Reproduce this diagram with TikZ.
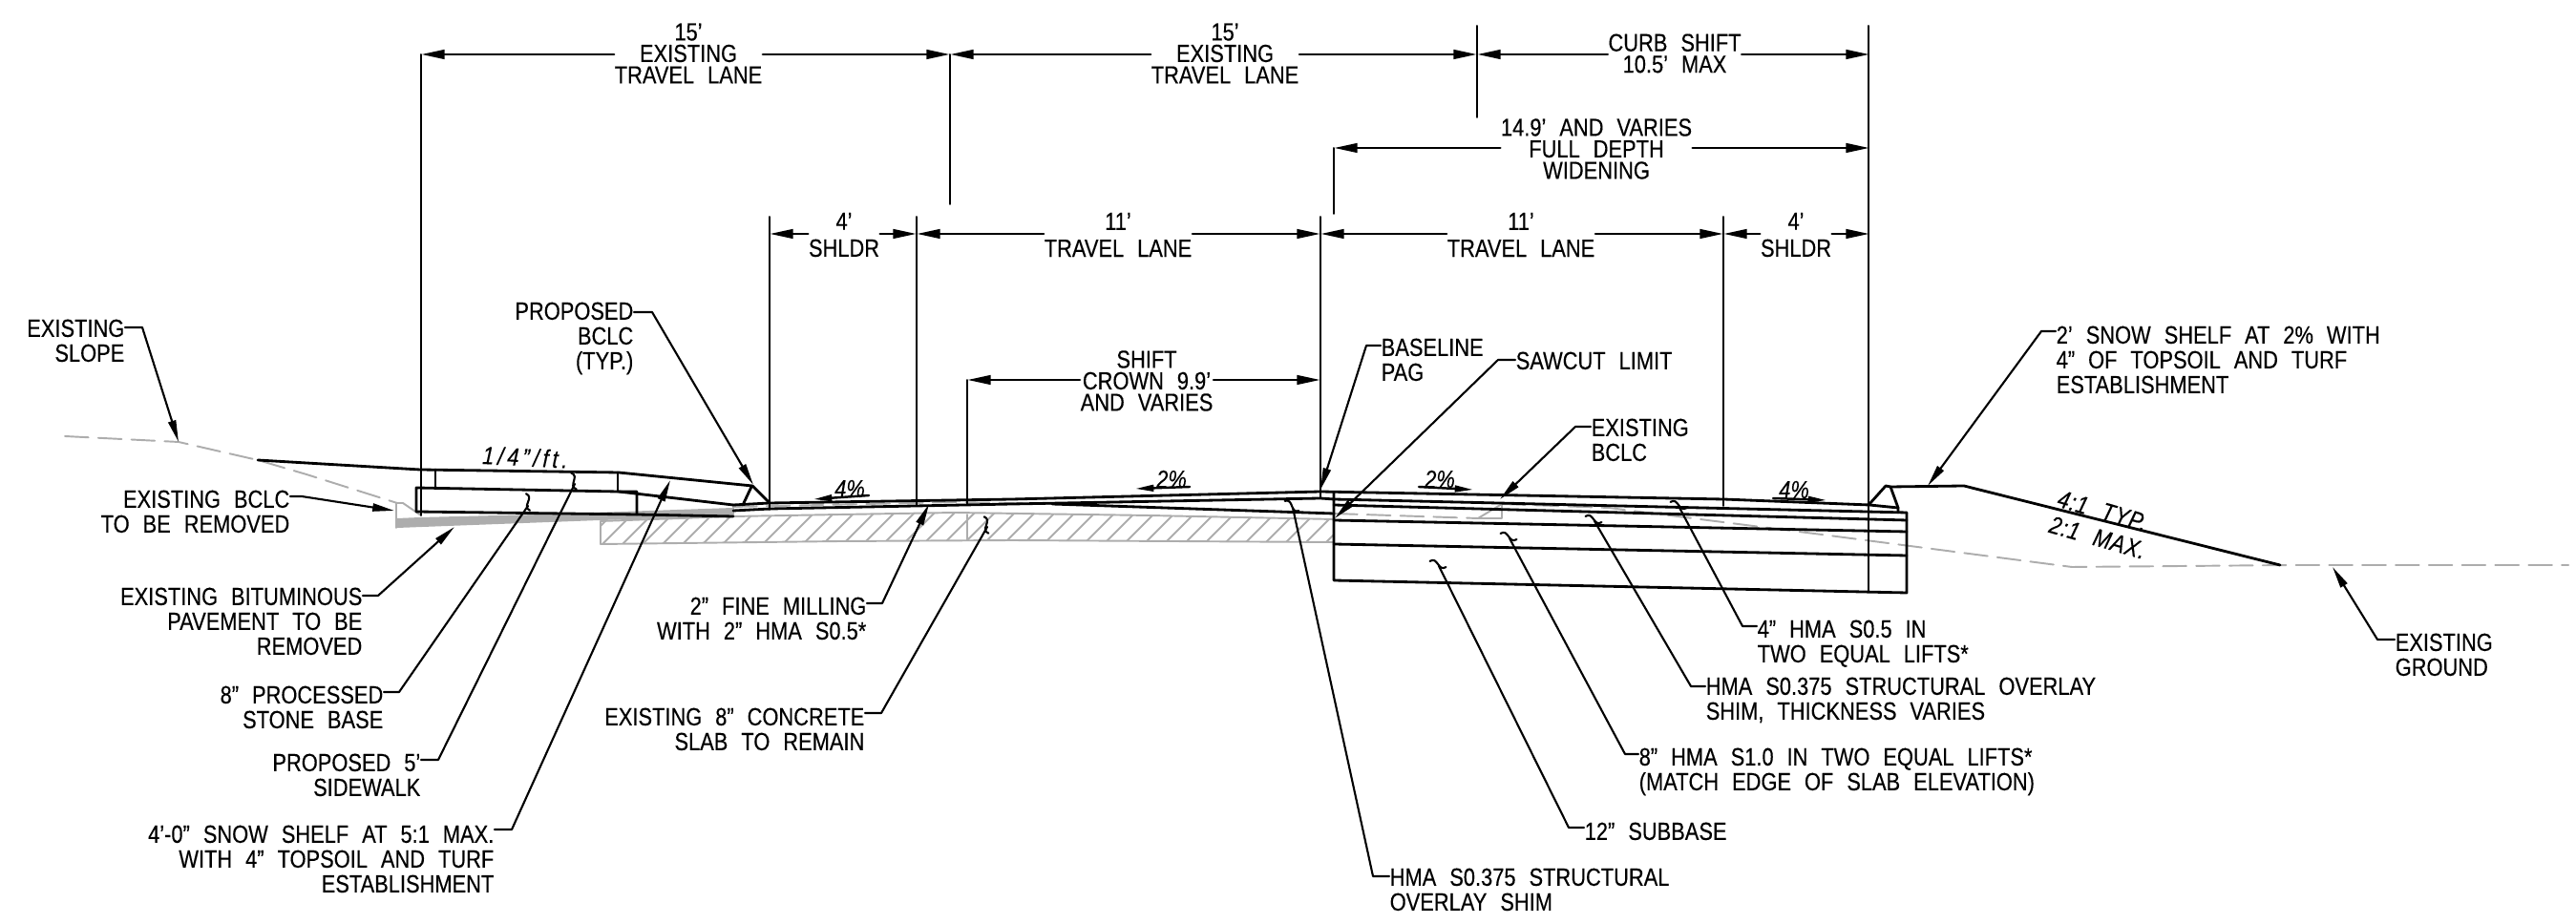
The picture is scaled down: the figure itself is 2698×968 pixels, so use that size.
\documentclass[tikz,border=0pt]{standalone}
\usepackage{fontspec}
\setmainfont[FakeStretch=0.84,WordSpace=2.3,FakeBold=0.25]{Liberation Sans}
\usetikzlibrary{arrows.meta}

\definecolor{exgray}{gray}{0.68}

\tikzset{
  txt/.style={inner sep=0pt, font=\fontsize{7.4pt}{7.4pt}\selectfont},
  dimtxt/.style={inner sep=0pt, align=center, font=\fontsize{7.4pt}{6.4pt}\selectfont},
  slopetxt/.style={inner sep=0pt, font=\fontsize{7.4pt}{7.4pt}\selectfont\itshape},
  lblR/.style={txt, anchor=north east, align=right},
  lblL/.style={txt, anchor=north west, align=left},
  extline/.style={line width=0.55pt},
  dimline/.style={line width=0.8pt, -{Triangle[length=7pt,width=2.7pt]}},
  leaderarrow/.style={line width=0.6pt, -{Triangle[length=6.5pt,width=2.3pt]}},
  leaderline/.style={line width=0.6pt},
  slopearrow/.style={line width=0.7pt, -{Triangle[length=5.5pt,width=1.9pt]}},
  pavement/.style={line width=0.8pt},
  exdash/.style={exgray, line width=0.55pt, dash pattern=on 7pt off 2.9pt},
  exsolid/.style={exgray, line width=0.55pt},
  brk/.pic={\draw[leaderline] (-9,0) .. controls (-3,-8) and (3,8) .. (9,0);}
}

\begin{document}
\begin{tikzpicture}[x=0.01cm, y=-0.01cm, line cap=round, line join=round]

\useasboundingbox (0,0) rectangle (2698,968);

% Existing ground and removed pavement (gray, drawn first)
\fill[exgray] (416,543) -- (440,542) -- (563,539) -- (768,532) -- (768,541) -- (628,545) -- (416,553) -- cycle;
\draw[exsolid] (415,527) -- (422,527) -- (441,540);
\draw[exsolid] (415,527) -- (415,553);
\draw[exsolid] (768,529) -- (768,541);

% Slab hatch
\begin{scope}
  \clip (629,546) -- (768,541) -- (880,539) -- (1000,537) -- (1204,540) -- (1397,544) -- (1397,568) -- (1060,566) -- (880,567) -- (629,570) -- cycle;
  \foreach \hx in {600,621,...,1400}
    \draw[exsolid] (\hx,580) -- (\hx+45,535);
\end{scope}
\draw[exsolid] (629,546) -- (768,541) -- (880,539) -- (1000,537) -- (1204,540) -- (1397,544);
\draw[exsolid] (629,546) -- (629,570) -- (880,567) -- (1060,566) -- (1397,568);
\draw[exsolid] (1013,539) -- (1013,566);

% Existing slope and ground, dashed
\draw[exdash] (68,457) -- (187,463) -- (270,482) -- (321,497) -- (416,527);
\draw[exdash] (768,531) -- (1000,526) -- (1102,528);
\draw[exdash] (1397,538) -- (1548,543);
\draw[exsolid] (1548,543) -- (1573,528) -- (1573,543) -- cycle;
\draw[exdash] (1573,528) -- (1685,532) -- (1908,560) -- (2170,594) -- (2400,592) -- (2690,592);

% Left side: walk, shelf and base
\draw[pavement] (270,482) -- (440,492) -- (648,495) -- (788,509);
\draw[pavement] (788,509) -- (806,527);
\draw[pavement] (787,510) -- (778,529);
\draw[pavement] (456,492) -- (456,512);
\draw[pavement] (647,495) -- (647,515);
\draw[pavement] (436,536) -- (436,511) -- (647,515) -- (667,515) -- (667,539);
\draw[pavement] (648,515) -- (768,529);
\draw[pavement] (436,536) -- (667,539) -- (768,541);

% Surface through the crown
\draw[pavement] (768,529) -- (806,527) -- (1060,523) -- (1383,515) -- (1805,523) -- (1958,529) -- (1988,532);
\draw[pavement] (768,535) -- (807,533) -- (1060,528) -- (1383,522) -- (1397,523) -- (1997,537);
\draw[pavement] (1102,528) -- (1397,538);

% Full depth widening
\draw[pavement] (1397,516) -- (1397,608) -- (1997,621) -- (1997,537);
\draw[pavement] (1397,529) -- (1997,545);
\draw[pavement] (1397,545) -- (1997,557);
\draw[pavement] (1397,570) -- (1997,582);

% Right side: curb and slope
\draw[pavement] (1958,528) -- (1975,509) -- (1980,510) -- (1988,532) -- (1988,537);
\draw[pavement] (1980,510) -- (2057,509) -- (2388,592);

% Extension lines
\draw[extline] (441,57) -- (441,540);
\draw[extline] (995,57) -- (995,214);
\draw[extline] (806,227) -- (806,534);
\draw[extline] (960,227) -- (960,530);
\draw[extline] (1383,227) -- (1383,522);
\draw[extline] (1547,27) -- (1547,123);
\draw[extline] (1397,155) -- (1397,224);
\draw[extline] (1805,227) -- (1805,530);
\draw[extline] (1957,27) -- (1957,620);
\draw[extline] (1013,398) -- (1013,528);

% Dimension points
\coordinate (top1) at (441,57);
\coordinate (top2) at (995,57);
\coordinate (top3) at (1547,57);
\coordinate (top4) at (1958,57);
\coordinate (wide1) at (1397,155);
\coordinate (wide2) at (1958,155);
\coordinate (lane1) at (806,245);
\coordinate (lane2) at (960,245);
\coordinate (lane3) at (1383,245);
\coordinate (lane4) at (1805,245);
\coordinate (lane5) at (1958,245);
\coordinate (shift1) at (1013,398);
\coordinate (shift2) at (1383,398);

% Dimension texts
\node[dimtxt] (extext1) at (721,56) {15'\\EXISTING\\TRAVEL LANE};
\node[dimtxt] (extext2) at (1283,56) {15'\\EXISTING\\TRAVEL LANE};
\node[dimtxt] (curbtext) at (1754,56) {CURB SHIFT\\10.5' MAX};
\node[dimtxt] (widetext) at (1672,156) {14.9' AND VARIES\\FULL DEPTH\\WIDENING};
\node[dimtxt] (shldrtext1) at (884,246) {4'\\[1.6pt]SHLDR};
\node[dimtxt] (lanetext1) at (1171,246) {11'\\[1.6pt]TRAVEL LANE};
\node[dimtxt] (lanetext2) at (1593,246) {11'\\[1.6pt]TRAVEL LANE};
\node[dimtxt] (shldrtext2) at (1881,246) {4'\\[1.6pt]SHLDR};
\node[dimtxt] (shifttext) at (1201,399) {SHIFT\\CROWN 9.9'\\AND VARIES};

% Dimension lines
\draw[dimline] (extext1.west |- top1) -- (top1);
\draw[dimline] (extext1.east |- top2) -- (top2);
\draw[dimline] (extext2.west |- top2) -- (top2);
\draw[dimline] (extext2.east |- top3) -- (top3);
\draw[dimline] (curbtext.west |- top3) -- (top3);
\draw[dimline] (curbtext.east |- top4) -- (top4);
\draw[dimline] (widetext.west |- wide1) -- (wide1);
\draw[dimline] (widetext.east |- wide2) -- (wide2);
\draw[dimline] (shldrtext1.west |- lane1) -- (lane1);
\draw[dimline] (shldrtext1.east |- lane2) -- (lane2);
\draw[dimline] (lanetext1.west |- lane2) -- (lane2);
\draw[dimline] (lanetext1.east |- lane3) -- (lane3);
\draw[dimline] (lanetext2.west |- lane3) -- (lane3);
\draw[dimline] (lanetext2.east |- lane4) -- (lane4);
\draw[dimline] (shldrtext2.west |- lane4) -- (lane4);
\draw[dimline] (shldrtext2.east |- lane5) -- (lane5);
\draw[dimline] (shifttext.west |- shift1) -- (shift1);
\draw[dimline] (shifttext.east |- shift2) -- (shift2);

% Slope texts
\node[slopetxt, rotate=-3] (sidewalktxt) at (550,479) {\addfontfeature{LetterSpace=15}1/4"/ft.};
\node[slopetxt] (pctA) at (890,512) {4\%};
\node[slopetxt] (pctB) at (1227,502) {2\%};
\node[slopetxt] (pctC) at (1508,502) {2\%};
\node[slopetxt] (pctD) at (1879,513) {4\%};
\node[slopetxt, rotate=-16] (slopeA) at (2202,535) {\addfontfeature{LetterSpace=3}4:1 TYP.};
\node[slopetxt, rotate=-16] (slopeB) at (2197,563) {\addfontfeature{LetterSpace=3}2:1 MAX.};
\coordinate (pctAs) at (910,519);
\coordinate (pctAe) at (852,523);
\coordinate (pctBs) at (1246,510);
\coordinate (pctBe) at (1189,512);
\coordinate (pctCs) at (1486,510);
\coordinate (pctCe) at (1543,513);
\coordinate (pctDs) at (1857,522);
\coordinate (pctDe) at (1913,524);
\draw[slopearrow] (pctAs) -- (pctAe);
\draw[slopearrow] (pctBs) -- (pctBe);
\draw[slopearrow] (pctCs) -- (pctCe);
\draw[slopearrow] (pctDs) -- (pctDe);

% Left callouts
\node[lblR] (slopelbl) at (131,334) {EXISTING\\SLOPE};
\coordinate (slopebend) at (149,343);
\coordinate (slopetip) at (187,463);
\draw[leaderarrow] (slopelbl.north east |- slopebend) -- (slopebend) -- (slopetip);

\node[lblR] (proplbl) at (664,316) {PROPOSED\\BCLC\\(TYP.)};
\coordinate (propbend) at (683,327);
\coordinate (proptip) at (789,508);
\draw[leaderarrow] (proplbl.north east |- propbend) -- (propbend) -- (proptip);

\node[lblR] (bclclbl) at (304,513) {EXISTING BCLC\\TO BE REMOVED};
\coordinate (bclcbend) at (316,520);
\coordinate (bclctip) at (413,535);
\draw[leaderarrow] (bclclbl.north east |- bclcbend) -- (bclcbend) -- (bclctip);

\node[lblR] (bitlbl) at (380,615) {EXISTING BITUMINOUS\\PAVEMENT TO BE\\REMOVED};
\coordinate (bitbend) at (396,624);
\coordinate (bittip) at (476,552);
\draw[leaderarrow] (bitlbl.north east |- bitbend) -- (bitbend) -- (bittip);

\node[lblR] (stonelbl) at (402,718) {8" PROCESSED\\STONE BASE};
\coordinate (stonebend) at (418,725);
\coordinate (stoneend) at (553,530);
\draw[leaderline] (stonelbl.north east |- stonebend) -- (stonebend) -- (stoneend);
\pic[rotate=103] at (553,526) {brk};

\node[lblR] (walklbl) at (441,789) {PROPOSED 5'\\SIDEWALK};
\coordinate (walkbend) at (459,796);
\coordinate (walkend) at (602,507);
\draw[leaderline] (walklbl.north east |- walkbend) -- (walkbend) -- (walkend);
\pic[rotate=108] at (601,504) {brk};

\node[lblR] (shelflbl) at (518,864) {4'-0" SNOW SHELF AT 5:1 MAX.\\WITH 4" TOPSOIL AND TURF\\ESTABLISHMENT};
\coordinate (shelfbend) at (536,869);
\coordinate (shelftip) at (702,503);
\draw[leaderarrow] (shelflbl.north east |- shelfbend) -- (shelfbend) -- (shelftip);

\node[lblR] (milllbl) at (908,625) {2" FINE MILLING\\WITH 2" HMA S0.5*};
\coordinate (millbend) at (924,632);
\coordinate (milltip) at (973,528);
\draw[leaderarrow] (milllbl.north east |- millbend) -- (millbend) -- (milltip);

\node[lblR] (slablbl) at (906,741) {EXISTING 8" CONCRETE\\SLAB TO REMAIN};
\coordinate (slabbend) at (923,747);
\coordinate (slabend) at (1034,552);
\draw[leaderline] (slablbl.north east |- slabbend) -- (slabbend) -- (slabend);
\pic[rotate=105] at (1033,550) {brk};

% Right callouts
\node[lblL] (baselbl) at (1446,354) {BASELINE\\PAG};
\coordinate (basebend) at (1431,362);
\coordinate (basetip) at (1383,513);
\draw[leaderarrow] (baselbl.north west |- basebend) -- (basebend) -- (basetip);

\node[lblL] (sawlbl) at (1587,368) {SAWCUT LIMIT};
\coordinate (sawbend) at (1569,377);
\coordinate (sawtip) at (1398,543);
\draw[leaderarrow] (sawlbl.north west |- sawbend) -- (sawbend) -- (sawtip);

\node[lblL] (exbclclbl) at (1666,438) {EXISTING\\BCLC};
\coordinate (exbclcbend) at (1650,447);
\coordinate (exbclctip) at (1571,523);
\draw[leaderarrow] (exbclclbl.north west |- exbclcbend) -- (exbclcbend) -- (exbclctip);

\node[lblL] (snowlbl) at (2153,341) {2' SNOW SHELF AT 2\% WITH\\4" OF TOPSOIL AND TURF\\ESTABLISHMENT};
\coordinate (snowbend) at (2138,347);
\coordinate (snowtip) at (2019,509);
\draw[leaderarrow] (snowlbl.north west |- snowbend) -- (snowbend) -- (snowtip);

\node[lblL] (hmaAlbl) at (1840,649) {4" HMA S0.5 IN\\TWO EQUAL LIFTS*};
\coordinate (hmaAbend) at (1825,656);
\coordinate (hmaAend) at (1758,530);
\draw[leaderline] (hmaAlbl.north west |- hmaAbend) -- (hmaAbend) -- (hmaAend);
\pic[rotate=-20] at (1758,529) {brk};

\node[lblL] (hmaBlbl) at (1786,709) {HMA S0.375 STRUCTURAL OVERLAY\\SHIM, THICKNESS VARIES};
\coordinate (hmaBbend) at (1771,719);
\coordinate (hmaBend) at (1670,546);
\draw[leaderline] (hmaBlbl.north west |- hmaBbend) -- (hmaBbend) -- (hmaBend);
\pic[rotate=-20] at (1669,544) {brk};

\node[lblL] (hmaClbl) at (1716,783) {8" HMA S1.0 IN TWO EQUAL LIFTS*\\(MATCH EDGE OF SLAB ELEVATION)};
\coordinate (hmaCbend) at (1702,790);
\coordinate (hmaCend) at (1581,564);
\draw[leaderline] (hmaClbl.north west |- hmaCbend) -- (hmaCbend) -- (hmaCend);
\pic[rotate=-20] at (1580,562) {brk};

\node[lblL] (sublbl) at (1659,861) {12" SUBBASE};
\coordinate (subbend) at (1643,867);
\coordinate (subend) at (1507,593);
\draw[leaderline] (sublbl.north west |- subbend) -- (subbend) -- (subend);
\pic[rotate=-20] at (1506,591) {brk};

\node[lblL] (shimlbl) at (1455,909) {HMA S0.375 STRUCTURAL\\OVERLAY SHIM};
\coordinate (shimbend) at (1438,918);
\coordinate (shimend) at (1354,532);
\draw[leaderline] (shimlbl.north west |- shimbend) -- (shimbend) -- (shimend);
\pic[rotate=-35] at (1353,530) {brk};

\node[lblL] (groundlbl) at (2508,663) {EXISTING\\GROUND};
\coordinate (groundbend) at (2490,670);
\coordinate (groundtip) at (2443,594);
\draw[leaderarrow] (groundlbl.north west |- groundbend) -- (groundbend) -- (groundtip);

\end{tikzpicture}
\end{document}
